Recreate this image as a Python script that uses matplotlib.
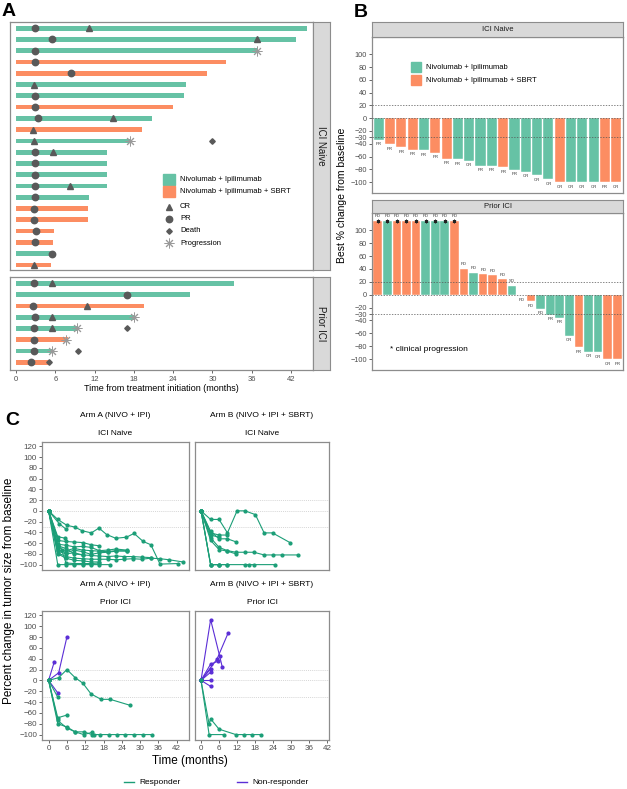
import matplotlib
matplotlib.use('Agg')
import matplotlib.pyplot as plt
from matplotlib.patches import Rectangle
import numpy as np

plt.rcParams['font.family'] = ['Liberation Sans', 'DejaVu Sans']

# ---------------- DATA ----------------
# Panel A swimmer plot (months)
naive_arm = ['A', 'A', 'A', 'B', 'B', 'A', 'A', 'B', 'A', 'B', 'A', 'A', 'A', 'A', 'A', 'A', 'B', 'B', 'B', 'B', 'A', 'B']
naive_dur = [44.4, 42.8, 36.8, 32.0, 29.1, 26.0, 25.7, 24.0, 20.8, 19.3, 17.5, 13.9, 13.9, 13.9, 13.85, 11.1, 11.0, 11.0, 5.75, 5.65, 5.45, 5.3]
naive_pr = [2.85, 5.5, 2.85, 2.85, 8.35, None, 2.85, 2.85, 3.3, None, None, 2.9, 2.9, 2.9, 2.9, 2.9, 2.8, 2.8, 3.0, 2.85, 5.45, None]
naive_cr = [11.1, 36.8, None, None, None, 2.75, None, None, 14.8, 2.6, 2.7, 5.6, None, None, 8.3, None, None, None, None, None, None, 2.75]
naive_prog = [None, None, 36.8, None, None, None, None, None, None, None, 17.4, None, None, None, None, None, None, None, None, None, None, None]
naive_death = [None, None, None, None, None, None, None, None, None, None, 30.0, None, None, None, None, None, None, None, None, None, None, None]

prior_arm = ['A', 'A', 'B', 'A', 'A', 'B', 'A', 'B']
prior_dur = [33.3, 26.6, 19.5, 18.1, 9.4, 7.9, 5.55, 5.2]
prior_pr = [2.8, 17.0, 2.55, 2.95, 2.7, 2.8, 2.7, 2.3]
prior_cr = [5.5, None, 10.9, 5.45, 5.5, None, None, None]
prior_prog = [None, None, None, 18.0, 9.25, 7.7, 5.5, None]
prior_death = [None, None, None, None, 17.0, None, 9.4, 5.1]

time_ticks = [0, 6, 12, 18, 24, 30, 36, 42]

# Panel B waterfall (best % change)
wf_naive_val = [-34, -41, -45, -49.5, -50.5, -53.7, -63.6, -64.6, -66.7, -74.5, -74.5, -77, -80.7, -84, -89.6, -95.3, -100, -100, -100, -100, -100, -100]
wf_naive_arm = ['A', 'B', 'B', 'B', 'A', 'B', 'B', 'A', 'A', 'A', 'A', 'B', 'A', 'A', 'A', 'A', 'B', 'A', 'A', 'A', 'B', 'B']
wf_naive_resp = ['PR', 'PR', 'PR', 'PR', 'PR', 'PR', 'PR', 'PR', 'CR', 'PR', 'PR', 'PR', 'PR', 'CR', 'CR', 'CR', 'CR', 'CR', 'CR', 'CR', 'PR', 'CR']

wf_prior_val = [115, 115, 115, 115, 115, 115, 115, 115, 115, 40, 34, 32, 30, 24, 14, -1, -10, -22, -31, -36, -64, -82, -88.5, -89, -100, -100]
wf_prior_arm = ['B', 'A', 'B', 'B', 'B', 'A', 'A', 'A', 'B', 'B', 'A', 'B', 'B', 'B', 'A', 'A', 'B', 'A', 'A', 'A', 'A', 'B', 'A', 'A', 'B', 'B']
wf_prior_resp = ['PD'] * 14 + ['SD', 'PD', 'PD', 'PD', 'PR', 'PR', 'CR', 'PR', 'CR', 'CR', 'CR', 'PR']
wf_prior_clinprog = [True] * 9 + [False] * 17
wf_yticks = [100, 80, 60, 40, 20, 0, -20, -30, -40, -60, -80, -100]

# Panel C spider plots: (months, % change, responder?)
armA_naive = [
    ([0, 3, 6, 8.5, 11, 14, 16.5, 19, 22, 25.5, 28, 31, 33.5, 36.5, 42.5], [0, -16, -27, -30, -37, -41, -32, -44, -51, -49, -42, -57, -63, -99, -98], True),
    ([0, 3.5, 5.7], [0, -24, -34], True),
    ([0, 3, 5.5], [0, -48, -51], True),
    ([0, 3, 5.7, 8.4, 11.2, 13.9, 16.6], [0, -55, -57, -58, -59, -63, -65], True),
    ([0, 3, 5.7, 8.4, 11.2, 13.9, 16.6, 19.3, 22, 25.6], [0, -62, -64, -67, -66, -68, -74, -73, -71, -73], True),
    ([0, 3, 4.5, 5.7, 8.4, 11.2, 13.9, 16.6, 19.3, 22, 25.6], [0, -68, -72, -74, -70, -73, -74, -75, -76, -74, -75], True),
    ([0, 3, 5.7, 8.4, 11.2, 13.9, 16.6, 19.3, 22, 25.6], [0, -72, -78, -73, -76, -81, -78, -77, -75, -74], True),
    ([0, 3, 5.7, 8.4, 11.2, 13.9, 16.6, 19.3, 22, 24.8, 27.5, 30.5, 33.5], [0, -75, -80, -78, -82, -83, -84, -85, -84, -85, -85, -86, -87], True),
    ([0, 3, 5.7, 8.4, 11.2, 14, 16.6, 19.3, 22, 24.8, 27.5, 30.5, 33.5, 36.5, 39.5, 44], [0, -78, -85, -88, -89, -90, -90, -90, -91, -90, -89, -90, -88, -89, -91, -95], True),
    ([0, 3, 5.7, 8.4, 11.2, 13.9, 16.6], [0, -80, -88, -92, -93, -95, -95], True),
    ([0, 3, 5.7, 8.4, 11.2, 13.9, 16.6, 20.2], [0, -100, -100, -100, -100, -100, -100, -100], True),
    ([0, 5.7, 8.4, 11.2, 13.9, 16.6], [0, -97, -98, -98, -98, -97], True),
    ([0, 3, 5.7, 8.4, 11.2], [0, -65, -70, -80, -82], True),
]
armB_naive = [
    ([0, 3.2, 6, 8.8, 12, 14.6, 18.1, 21, 23.8, 29.6], [0, -16, -16, -41, 0, 0, -7, -41, -41, -59], True),
    ([0, 3.2, 6, 8.8, 11.8], [0, -38, -52, -52, -58], True),
    ([0, 3.2, 6, 8.8, 11.6, 14.6, 17.6, 21, 24, 27, 32.3], [0, -50, -68, -74, -77, -77, -77, -82, -82, -82, -82], True),
    ([0, 3.2, 6, 8.8, 11.6], [0, -55, -72, -75, -80], True),
    ([0, 3.2, 6], [0, -45, -49], True),
    ([0, 3.2, 6, 8.8], [0, -41, -45, -45], True),
    ([0, 3.2, 6, 8.8, 14.6, 16, 17.6, 24.6], [0, -100, -100, -100, -100, -100, -100, -100], True),
    ([0, 3.2, 6, 8.8], [0, -100, -100, -100], True),
    ([0, 3.2, 6], [0, -100, -100], True),
]
armA_prior = [
    ([0, 1.85], [0, 34], False),
    ([0, 3.3, 6], [0, 14, 80], False),
    ([0, 3], [0, -23], False),
    ([0, 3.3, 6, 8.7, 11.2, 13.9, 17.2, 20.2, 26.7], [0, 5, 20, 5, -5, -25, -35, -35, -46], True),
    ([0, 3], [0, -31], True),
    ([0, 3, 6], [0, -69, -64], True),
    ([0, 3, 6, 8.7, 11.5, 14.2], [0, -80, -86, -95, -95, -100], True),
    ([0, 3, 6, 8.7, 11.5, 14.2, 15, 17, 19.8, 22.5, 25, 28, 31, 34], [0, -74, -88, -95, -100, -96, -100, -100, -100, -100, -100, -100, -100, -100], True),
]
armB_prior = [
    ([0, 3.2, 6.2, 7.1], [0, 112, 45, 24], False),
    ([0, 5.3, 9], [0, 39, 87], False),
    ([0, 3.2, 5.5], [0, 30, 35], False),
    ([0, 3.2], [0, 21], False),
    ([0, 3.2], [0, 15], False),
    ([0, 3.2], [0, 0], False),
    ([0, 3.2], [0, -11], False),
    ([0, 2.7, 3.2, 6, 11.6, 14.2, 17.1, 20.1], [0, -81, -71, -90, -100, -100, -100, -100], True),
    ([0, 2.7, 7.7], [0, -100, -100], True),
]
spider_yticks = [120, 100, 80, 60, 40, 20, 0, -20, -40, -60, -80, -100]

# ---------------- STYLE ----------------
W, H = 627, 789
GREEN = '#66C2A5'
ORANGE = '#FC8D62'
MK = '#595959'
CG = '#1B9E77'
CP = '#5B2ED6'
FRAME = '#8C8C8C'
TICKC = '#4D4D4D'
STRIP = '#D9D9D9'
arm_color = {'A': GREEN, 'B': ORANGE}

fig = plt.figure(figsize=(W / 100, H / 100), dpi=100)


def rect(x0, y0, x1, y1):
    return [x0 / W, 1 - y1 / H, (x1 - x0) / W, (y1 - y0) / H]


def frame(ax, lw=0.9):
    for s in ax.spines.values():
        s.set_color(FRAME)
        s.set_linewidth(lw)


def strip(box, text, rot=0, fs=6):
    sa = fig.add_axes(rect(*box))
    sa.set_facecolor(STRIP)
    sa.set_xticks([])
    sa.set_yticks([])
    frame(sa, 0.8)
    sa.text(0.5, 0.5, text, rotation=rot, ha='center', va='center', fontsize=fs,
            transform=sa.transAxes, color='#1A1A1A')


def swimmer(ax, arm, dur, pr, cr, prog, death):
    n = len(dur)
    rows = np.arange(n)
    ax.barh(rows, dur, left=0, height=0.42, color=[arm_color[a] for a in arm], zorder=2)

    def pts(vals):
        r = [i for i, v in enumerate(vals) if v is not None]
        return [vals[i] for i in r], r
    x, y = pts(pr)
    ax.plot(x, y, 'o', ms=4.6, color=MK, ls='none', zorder=4)
    x, y = pts(cr)
    ax.plot(x, y, '^', ms=4.8, color=MK, ls='none', zorder=4)
    x, y = pts(death)
    ax.plot(x, y, 'D', ms=2.8, color=MK, ls='none', zorder=4)
    x, y = pts(prog)
    ax.plot(x, y, marker=(8, 2, 0), ms=7, color='#9A9A9A', mew=0.7, ls='none', zorder=5)
    ax.set_xlim(-0.92, 45.36)
    ax.set_yticks([])
    frame(ax)


# ---------------- PANEL A ----------------
axA1 = fig.add_axes(rect(10, 22, 313, 270))
swimmer(axA1, naive_arm, naive_dur, naive_pr, naive_cr, naive_prog, naive_death)
axA1.set_ylim(21.45, -0.55)
axA1.set_xticks([])
strip((313, 22, 330, 270), 'ICI Naive', rot=270, fs=7)

axA2 = fig.add_axes(rect(10, 277, 313, 370))
swimmer(axA2, prior_arm, prior_dur, prior_pr, prior_cr, prior_prog, prior_death)
axA2.set_ylim(7.68, -0.56)
axA2.set_xticks(time_ticks)
axA2.tick_params(axis='x', labelsize=5.5, colors=TICKC, length=2, width=0.6, pad=2)
axA2.set_xlabel('Time from treatment initiation (months)', fontsize=6.5, labelpad=1)
strip((313, 277, 330, 370), 'Prior ICI', rot=270, fs=7)


# ---------------- PANEL B ----------------
def waterfall(ax, vals, arms, resp, clin=None):
    n = len(vals)
    xs = np.arange(1, n + 1)
    ax.bar(xs, vals, width=0.9, color=[arm_color[a] for a in arms], edgecolor='white', linewidth=0.3, zorder=2)
    for yv in (20, 0, -30):
        ax.axhline(yv, color='#555555', ls=(0, (2, 2)), lw=0.5, zorder=3)
    for i, (x, v, r) in enumerate(zip(xs, vals, resp)):
        if v > 0:
            ax.text(x, v + 4, r, ha='center', va='bottom', fontsize=3.1, color='#333333')
        else:
            ax.text(x, v - 4, r, ha='center', va='top', fontsize=3.1, color='#333333')
    if clin is not None:
        cx = [x for x, c in zip(xs, clin) if c]
        cy = [v for v, c in zip(vals, clin) if c]
        ax.plot(cx, cy, ls='none', marker=(6, 2, 0), ms=2.6, mew=0.6, color='#222222', zorder=4)
    ax.set_xlim(0.4, n + 0.6)
    ax.set_ylim(-117, 127)
    ax.set_xticks([])
    ax.set_yticks(wf_yticks)
    ax.tick_params(axis='y', labelsize=5.3, colors=TICKC, length=2, width=0.6, pad=1.5)
    frame(ax)


axB1 = fig.add_axes(rect(372, 37, 623, 193))
waterfall(axB1, wf_naive_val, wf_naive_arm, wf_naive_resp)
strip((372, 22, 623, 37), 'ICI Naive', fs=5.5)

axB2 = fig.add_axes(rect(372, 213, 623, 370))
waterfall(axB2, wf_prior_val, wf_prior_arm, wf_prior_resp, wf_prior_clinprog)
strip((372, 200, 623, 213), 'Prior ICI', fs=5.5)
axB2.text(0.07, 0.13, '* clinical progression', transform=axB2.transAxes, fontsize=6, ha='left', va='center')


# ---------------- PANEL C ----------------
def spider(ax, lines, xlim, show_x, show_y):
    for yv in (20, 0, -30):
        ax.axhline(yv, color='#C8C8C8', ls=(0, (1.5, 1.5)), lw=0.5, zorder=1)
    for t, v, resp in lines:
        c = CG if resp else CP
        ax.plot(t, v, '-', color=c, lw=0.8, marker='o', ms=2.0, zorder=3)
    ax.set_xlim(*xlim)
    ax.set_ylim(-110, 128)
    ax.set_yticks(spider_yticks)
    ax.set_xticks(time_ticks)
    ax.tick_params(labelsize=5.8, colors=TICKC, length=2, width=0.6, pad=1.5)
    if not show_x:
        ax.tick_params(axis='x', length=0, labelbottom=False)
    if not show_y:
        ax.tick_params(axis='y', length=0, labelleft=False)
    frame(ax)


axC1 = fig.add_axes(rect(42, 442, 189, 570))
spider(axC1, armA_naive, (-2.16, 46.0), False, True)
axC2 = fig.add_axes(rect(195, 442, 329, 570))
spider(axC2, armB_naive, (-2.0, 42.6), False, False)
axC3 = fig.add_axes(rect(42, 611, 189, 740))
spider(axC3, armA_prior, (-2.16, 46.0), True, True)
axC4 = fig.add_axes(rect(195, 611, 329, 740))
spider(axC4, armB_prior, (-2.0, 42.6), True, False)

# ---------------- OVERLAY: legends, titles ----------------
ov = fig.add_axes([0, 0, 1, 1], zorder=10)
ov.set_xlim(0, W)
ov.set_ylim(H, 0)
ov.axis('off')

ov.text(2, 11, 'A', fontsize=14, fontweight='bold', va='center', ha='left')
ov.text(354, 12, 'B', fontsize=14, fontweight='bold', va='center', ha='left')
ov.text(5, 420, 'C', fontsize=14, fontweight='bold', va='center', ha='left')

# legend A
ov.add_patch(Rectangle((163, 174), 12, 11, color=GREEN))
ov.add_patch(Rectangle((163, 186), 12, 11, color=ORANGE))
ov.text(180, 179.5, 'Nivolumab + Ipilimumab', fontsize=5.5, va='center')
ov.text(180, 191.5, 'Nivolumab + Ipilimumab + SBRT', fontsize=5.5, va='center')
leg_marks = [('^', 4.8, 'CR', MK, 206.5), ('o', 4.6, 'PR', MK, 218.5), ('D', 2.8, 'Death', MK, 230.5)]
for m, s, lab, c, yy in leg_marks:
    ov.plot([169], [yy], m, ms=s, color=c)
    ov.text(180, yy, lab, fontsize=5.5, va='center')
ov.plot([169], [243], marker=(8, 2, 0), ms=7, color='#9A9A9A', mew=0.7)
ov.text(180, 243, 'Progression', fontsize=5.5, va='center')

# legend B
ov.add_patch(Rectangle((411, 62), 10, 10, color=GREEN))
ov.add_patch(Rectangle((411, 75), 10, 10, color=ORANGE))
ov.text(426, 67, 'Nivolumab + Ipilimumab', fontsize=5.5, va='center')
ov.text(426, 80, 'Nivolumab + Ipilimumab + SBRT', fontsize=5.5, va='center')
ov.text(342, 195, 'Best % change from baseline', rotation=90, fontsize=7.5, ha='center', va='center')

# panel C titles
for cx, yt, t1, t2 in [(115.5, 415, 'Arm A (NIVO + IPI)', 'ICI Naive'),
                       (262, 415, 'Arm B (NIVO + IPI + SBRT)', 'ICI Naive'),
                       (115.5, 585, 'Arm A (NIVO + IPI)', 'Prior ICI'),
                       (262, 585, 'Arm B (NIVO + IPI + SBRT)', 'Prior ICI')]:
    ov.text(cx, yt, t1, fontsize=6, ha='center', va='center')
    ov.text(cx, yt + 18, t2, fontsize=6, ha='center', va='center')

ov.text(9, 591, 'Percent change in tumor size from baseline', rotation=90, fontsize=8.5, ha='center', va='center')
ov.text(190, 761, 'Time (months)', fontsize=8.5, ha='center', va='center')
ov.plot([124, 134], [782, 782], color=CG, lw=1)
ov.text(139, 782, 'Responder', fontsize=6, va='center')
ov.plot([237, 247], [782, 782], color=CP, lw=1)
ov.text(252, 782, 'Non-responder', fontsize=6, va='center')

fig.savefig('out.png', dpi=100)
